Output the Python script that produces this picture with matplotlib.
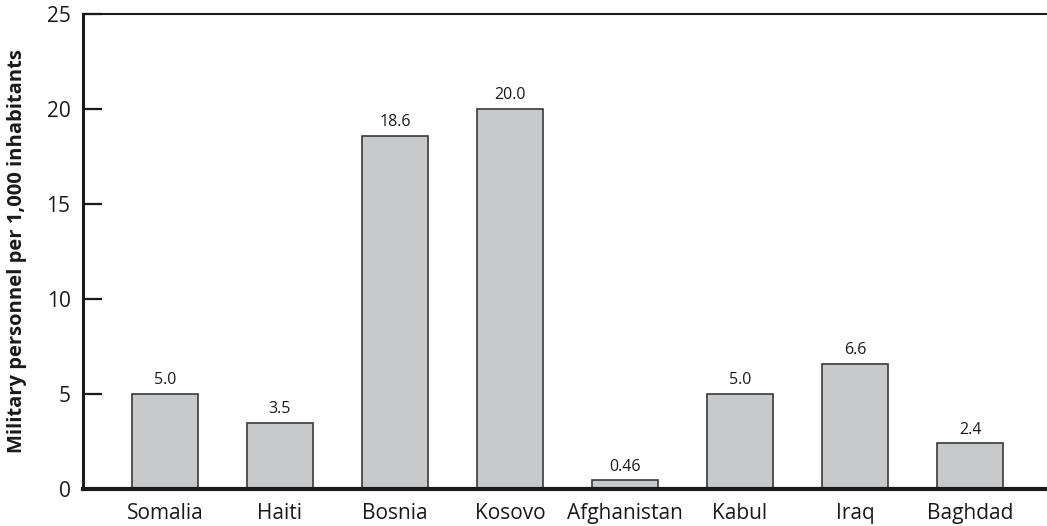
import matplotlib.pyplot as plt
import numpy as np

plt.rcParams['font.family'] = ['Open Sans', 'DejaVu Sans']

places = ['Somalia', 'Haiti', 'Bosnia', 'Kosovo', 'Afghanistan',
          'Kabul', 'Iraq', 'Baghdad']
personnel = [5.0, 3.5, 18.6, 20.0, 0.46, 5.0, 6.6, 2.4]
value_labels = ['5.0', '3.5', '18.6', '20.0', '0.46', '5.0', '6.6', '2.4']
yticks = [0, 5, 10, 15, 20, 25]

fig = plt.figure(figsize=(10.47, 5.26), dpi=100)
ax = fig.add_axes([83 / 1047, 37 / 526, 1 - 83 / 1047, 475 / 526])

x = np.arange(len(places))
ax.bar(x, personnel, width=0.574, color='#c8c9cb',
       edgecolor='#3a3a3a', linewidth=1.2, zorder=2)

for xi, v, lab in zip(x, personnel, value_labels):
    ax.text(xi, v + 0.3, lab, ha='center', va='bottom', fontsize=11.5,
            color='#1a1a1a')

ax.set_xlim(-0.713, 7.67)
ax.set_ylim(0, 25)
ax.set_xticks(x)
ax.set_xticklabels(places, fontsize=15, color='#1a1a1a')
ax.set_yticks(yticks)
ax.set_yticklabels([str(t) for t in yticks], fontsize=15, color='#1a1a1a')
ax.tick_params(axis='x', length=0, pad=10)
ax.tick_params(axis='y', direction='in', length=14, width=1.6,
               color='#1a1a1a', pad=9)

ax.spines['right'].set_visible(False)
ax.spines['left'].set_linewidth(2.2)
ax.spines['bottom'].set_linewidth(3.0)
ax.spines['top'].set_linewidth(1.5)
for s in ax.spines.values():
    s.set_color('#1a1a1a')

ax.set_ylabel('Military personnel per 1,000 inhabitants', fontsize=14.5,
              fontweight='bold', labelpad=14, color='#1a1a1a')

fig.savefig('out.png', dpi=100)
